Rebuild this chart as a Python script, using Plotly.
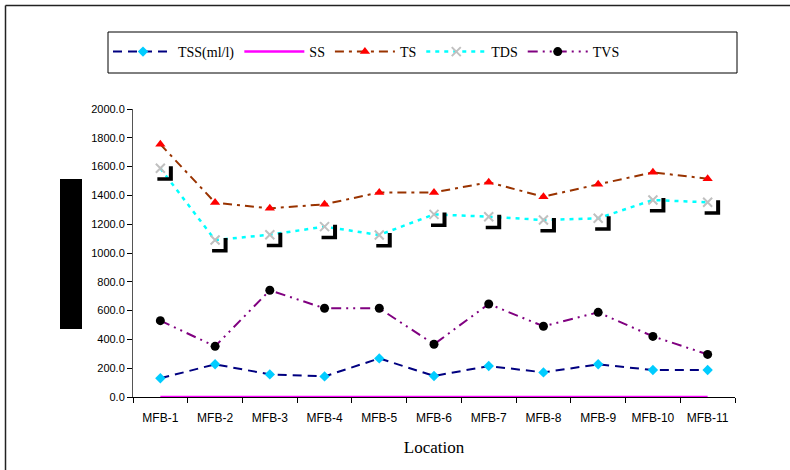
import plotly.graph_objects as go

locations = ["MFB-1", "MFB-2", "MFB-3", "MFB-4", "MFB-5", "MFB-6",
             "MFB-7", "MFB-8", "MFB-9", "MFB-10", "MFB-11"]
tss = [130, 227, 157, 143, 268, 146, 215, 171, 227, 187, 187]
ss = [0, 0, 0, 0, 0, 0, 0, 0, 0, 0, 0]
ts = [1755, 1350, 1310, 1338, 1421, 1421, 1491, 1391, 1477, 1560, 1516]
tds = [1588, 1090, 1127, 1183, 1125, 1268, 1252, 1229, 1241, 1368, 1352]
tvs = [530, 352, 741, 616, 616, 366, 646, 491, 588, 421, 296]
y_ticks = [0, 200, 400, 600, 800, 1000, 1200, 1400, 1600, 1800, 2000]

W, H = 790, 470
L, R, T, B = 133, 735, 109, 397


def px(x):
    return (x - L) / (R - L)


def py(y):
    return (B - y) / (B - T)


fig = go.Figure()
fig.add_trace(go.Scatter(
    x=locations, y=tss, name="TSS(ml/l)", mode="lines+markers",
    line=dict(color="#000080", width=2, dash="9px,6px"),
    marker=dict(symbol="diamond", color="#00CCFF", size=8)))
fig.add_trace(go.Scatter(
    x=locations, y=ss, name="SS", mode="lines",
    line=dict(color="#FF00FF", width=2.5)))
fig.add_trace(go.Scatter(
    x=locations, y=ts, name="TS", mode="lines+markers",
    line=dict(color="#993300", width=2, dash="9px,5px,3px,5px"),
    marker=dict(symbol="triangle-up", color="#FF0000", size=9)))
fig.add_trace(go.Scatter(
    x=locations, y=tds, name="TDS", mode="lines+markers",
    line=dict(color="#00FFFF", width=2.5, dash="4px,5px"),
    marker=dict(symbol="x-thin", color="#C0C0C0", size=9,
                line=dict(color="#C0C0C0", width=2))))
fig.add_trace(go.Scatter(
    x=locations, y=tvs, name="TVS", mode="lines+markers",
    line=dict(color="#800080", width=2, dash="10px,5px,2px,5px,2px,5px"),
    marker=dict(symbol="circle", color="#000000", size=9)))

shapes = [
    # outer frame (top and left)
    dict(type="line", xref="paper", yref="paper", x0=px(5.5), x1=px(792),
         y0=py(5.5), y1=py(5.5), line=dict(color="#222222", width=1.5)),
    dict(type="line", xref="paper", yref="paper", x0=px(5.5), x1=px(5.5),
         y0=py(5.5), y1=py(472), line=dict(color="#222222", width=1.5)),
    # legend box
    dict(type="rect", xref="paper", yref="paper", x0=px(108), x1=px(737),
         y0=py(73), y1=py(32), line=dict(color="#000000", width=1)),
    # black block (obscured axis title)
    dict(type="rect", xref="paper", yref="paper", x0=px(60), x1=px(82),
         y0=py(329), y1=py(179), fillcolor="#000000",
         line=dict(color="#000000", width=0)),
]
# black "L" label artifacts beside each TDS point (pixel-sized, anchored on data)
for i, v in enumerate(tds):
    shapes.append(dict(
        type="path", xref="x", yref="y", xsizemode="pixel", ysizemode="pixel",
        xanchor=i, yanchor=v,
        path="M -3,-9 L 8.5,-9 L 8.5,2 L 12.5,2 L 12.5,-12.5 L -3,-12.5 Z",
        fillcolor="#000000", line=dict(color="#000000", width=0)))

fig.update_layout(
    width=W, height=H,
    margin=dict(l=L, r=W - R, t=T, b=H - B),
    paper_bgcolor="white", plot_bgcolor="white",
    shapes=shapes,
    showlegend=True,
    legend=dict(orientation="h", x=px(108), y=py(52), xanchor="left",
                yanchor="middle", itemwidth=60,
                font=dict(family="Liberation Serif", size=14, color="#000000"),
                bgcolor="rgba(0,0,0,0)", traceorder="normal"),
    font=dict(family="Liberation Sans", size=11, color="#000000"),
    xaxis=dict(type="category", showline=True, linecolor="#000000",
               linewidth=1, ticks="outside", tickson="boundaries",
               ticklen=5, tickcolor="#000000", showgrid=False,
               zeroline=False, range=[-0.5, 10.5], ticklabelstandoff=10,
               tickfont=dict(family="Liberation Sans", size=12),
               title=dict(text="Location", standoff=16,
                          font=dict(family="Liberation Serif", size=17))),
    yaxis=dict(range=[0, 2000], tickvals=y_ticks, tickformat=".1f",
               showline=True, linecolor="#555555", linewidth=1,
               ticks="outside", ticklen=5, tickcolor="#000000",
               showgrid=False, zeroline=False,
               tickfont=dict(family="Liberation Sans", size=11)),
)

fig.write_html("out.html", config={"displayModeBar": False},
               post_script="document.body.style.margin='0';")
